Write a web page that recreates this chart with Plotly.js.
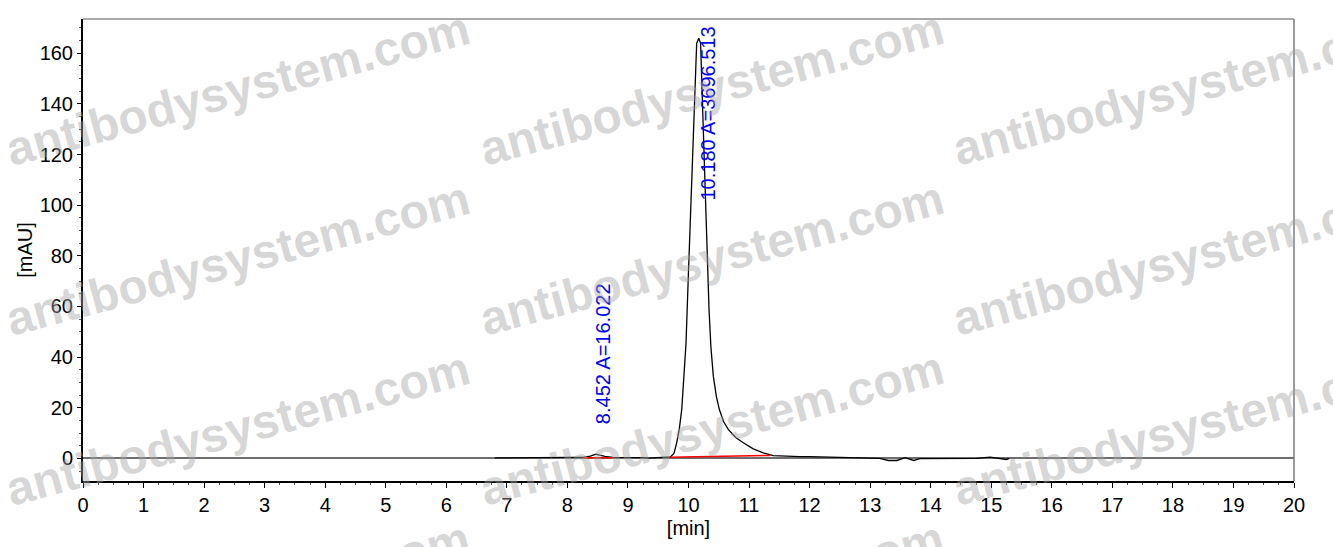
<!DOCTYPE html>
<html>
<head>
<meta charset="utf-8">
<script src="https://cdn.plot.ly/plotly-3.0.1.min.js"></script>
<style>
  html, body { margin: 0; padding: 0; background: #ffffff; }
  #chart { width: 1333px; height: 547px; }
</style>
</head>
<body>
<div id="chart"></div>
<script>
// Chromatogram signal (time in min, absorbance in mAU)
const timeMin = [6.8, 6.85, 8.0, 8.26, 8.38, 8.45, 8.47, 8.53, 8.62, 8.75, 9.0, 9.25, 9.35, 9.45, 9.6,
    9.70, 9.76, 9.805, 9.85, 9.888, 9.92, 9.959, 9.997, 10.036, 10.069, 10.107, 10.135, 10.17,
    10.20, 10.234, 10.284, 10.339, 10.37, 10.41, 10.46, 10.51, 10.58, 10.66, 10.78, 10.905,
    11.07, 11.235, 11.4, 11.6, 11.84, 12.0, 12.5, 12.85, 13.16, 13.3, 13.44, 13.58, 13.72,
    13.82, 14.2, 14.76, 14.98, 15.1, 15.25, 15.3];
const signalMAU = [0.1, 0.2, 0.4, 0.4, 0.9, 1.6, 1.7, 1.3, 0.8, 0.4, 0.4, 0.3, 0.1, 0.3, 0.3,
    0.6, 2.0, 6.2, 12, 19.3, 31, 45.6, 71.9, 98.2, 124.5, 150.7, 163.9, 165.9,
    163.9, 137.6, 98.2, 58.8, 44, 32.5, 24.5, 19.3, 14.5, 11.4, 8.3, 6.2,
    3.8, 2.2, 1.1, 0.8, 0.7, 0.7, 0.4, 0.1, 0, -0.8, -0.8, 0.3, -0.8,
    -0.1, 0, 0, 0.5, 0.2, -0.4, 0];

// Integration baselines (start/end of each peak)
const baseTimes = [[8.26, 8.75], [9.70, 11.35]];
const baseValues = [[0.25, 0.3], [0.5, 1.2]];

// Peak labels
const peakTimes = ['8.452', '10.180'];
const peakAreas = ['16.022', '3696.513'];

const watermark = 'antibodysystem.com';

const FONT = 'Arial, "Liberation Sans", sans-serif';

const traces = [{
    x: timeMin,
    y: signalMAU,
    mode: 'lines',
    line: { color: '#000000', width: 1.3 },
    hoverinfo: 'x+y',
    showlegend: false
}];

baseTimes.forEach((bt, i) => {
    traces.push({
        x: bt,
        y: baseValues[i],
        mode: 'lines',
        line: { color: '#ff0000', width: 1.5 },
        hoverinfo: 'skip',
        showlegend: false
    });
});

// label anchor spots (x in min, bottom of text in mAU)
const labelX = [8.59, 10.32];
const labelY = [12.6, 101];

const annotations = peakTimes.map((t, i) => ({
    x: labelX[i],
    y: labelY[i],
    xref: 'x',
    yref: 'y',
    text: t + ' A=' + peakAreas[i],
    showarrow: false,
    textangle: -90,
    xanchor: 'center',
    yanchor: 'bottom',
    font: { family: FONT, size: 20, color: '#0000ff' }
}));

// watermark grid, pixel centres converted to paper units
const plotL = 83, plotR = 1294, plotT = 19, plotB = 481;
const wmCols = [238, 711, 1184];
const wmRows = [88, 258, 428, 598];
wmRows.forEach(py => {
    wmCols.forEach(px => {
        annotations.push({
            x: (px - plotL) / (plotR - plotL),
            y: (plotB - py) / (plotB - plotT),
            xref: 'paper',
            yref: 'paper',
            text: '<b>' + watermark + '</b>',
            showarrow: false,
            textangle: -15,
            xanchor: 'center',
            yanchor: 'middle',
            font: { family: FONT, size: 48, color: 'rgba(165,165,165,0.45)' }
        });
    });
});

const layout = {
    width: 1333,
    height: 547,
    margin: { l: 83, r: 39, t: 19, b: 66 },
    paper_bgcolor: '#ffffff',
    plot_bgcolor: '#ffffff',
    showlegend: false,
    font: { family: FONT, color: '#000000' },
    xaxis: {
        range: [0, 20],
        tick0: 0,
        dtick: 1,
        ticks: 'outside',
        ticklen: 5,
        tickcolor: '#000000',
        tickfont: { family: FONT, size: 20, color: '#000000' },
        minor: { ticks: 'outside', dtick: 0.25, ticklen: 2, tickcolor: '#555555' },
        showgrid: false,
        zeroline: false,
        showline: true,
        linecolor: '#000000',
        linewidth: 2,
        title: { text: '[min]', font: { family: FONT, size: 20, color: '#000000' }, standoff: 6 }
    },
    yaxis: {
        range: [-8.9, 173.5],
        tick0: 0,
        dtick: 20,
        ticks: 'outside',
        ticklen: 4,
        tickcolor: '#000000',
        tickfont: { family: FONT, size: 20, color: '#000000' },
        minor: { ticks: 'outside', dtick: 5, ticklen: 2, tickcolor: '#555555' },
        showgrid: false,
        zeroline: true,
        zerolinecolor: '#6e6e6e',
        zerolinewidth: 1.5,
        showline: true,
        linecolor: '#000000',
        linewidth: 2,
        title: { text: '[mAU]', font: { family: FONT, size: 20, color: '#000000' }, standoff: 2 }
    },
    shapes: [
        { type: 'line', xref: 'paper', yref: 'paper', x0: 0, x1: 1, y0: 1, y1: 1,
          line: { color: '#555555', width: 1 } },
        { type: 'line', xref: 'paper', yref: 'paper', x0: 1, x1: 1, y0: 0, y1: 1,
          line: { color: '#7a7a7a', width: 1.5 } }
    ],
    annotations: annotations
};

Plotly.newPlot('chart', traces, layout, { displayModeBar: false, responsive: false });
</script>
</body>
</html>
